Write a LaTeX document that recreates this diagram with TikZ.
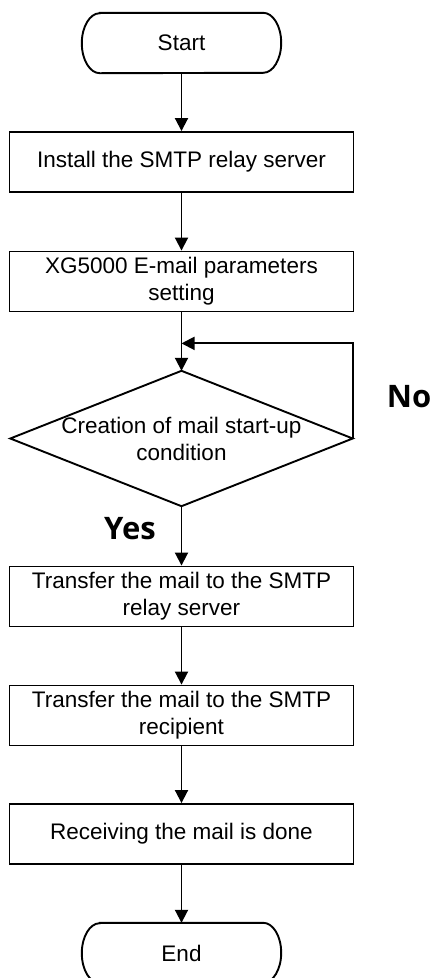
\documentclass[tikz,border=0pt]{standalone}
\usepackage{fontspec}
\setmainfont{Liberation Sans}
\newfontfamily\lblfont{Open Sans}
\usetikzlibrary{arrows.meta,calc}
\newcommand\termoutline[1]{\draw[line width=1.9pt] ([xshift=18pt]#1.north west) -- ([xshift=-18pt]#1.north east) arc[start angle=90,end angle=-90,x radius=18pt,y radius=30pt] -- ([xshift=18pt]#1.south west) arc[start angle=270,end angle=90,x radius=18pt,y radius=30pt] -- cycle;}
\begin{document}
\begin{tikzpicture}[x=1pt,y=1pt,
  txt/.style={font=\fontsize{22.5}{27}\selectfont},
  box/.style={txt,draw,line width=1.9pt,minimum width=344pt,minimum height=60pt,inner sep=0pt,align=center},
  term/.style={txt,minimum width=199pt,minimum height=60pt,inner sep=0pt},
  conn/.style={line width=1.9pt,-{Triangle[width=13pt,length=13pt]}},
  lbl/.style={font=\lblfont\bfseries\fontsize{31}{31}\selectfont}]
\useasboundingbox (0,0) rectangle (435,-978);
\node[term] (start) at (181.5,-43) {Start};
\termoutline{start}
\node[box] (b1) at (181.5,-162) {Install the SMTP relay server};
\node[box] (b2) at (181.5,-281.5) {XG5000 E-mail parameters\\setting};
\node[txt,minimum width=342pt,minimum height=135pt,inner sep=0pt,align=center] (dia) at (181.5,-438.5) {Creation of mail start-up\\condition};
\draw[line width=1.9pt] (dia.north) -- (dia.east) -- (dia.south) -- (dia.west) -- cycle;
\node[box] (b3) at (181.5,-596.5) {Transfer the mail to the SMTP\\relay server};
\node[box] (b4) at (181.5,-715.5) {Transfer the mail to the SMTP\\recipient};
\node[box] (b5) at (181.5,-834) {Receiving the mail is done};
\node[term] (end) at (181.5,-953) {End};
\termoutline{end}
\node[lbl] (yes) at (130,-529) {Yes};
\node[lbl] (no) at (409,-397) {No};
\coordinate (fb) at ($(b2.south)!0.53!(dia.north)$);
\draw[conn] (start) -- (b1);
\draw[conn] (b1) -- (b2);
\draw[conn] (b2) -- (dia.north);
\draw[conn] (dia.east) |- (fb);
\draw[conn] (dia.south) -- (b3);
\draw[conn] (b3) -- (b4);
\draw[conn] (b4) -- (b5);
\draw[conn] (b5) -- (end);
\end{tikzpicture}
\end{document}
